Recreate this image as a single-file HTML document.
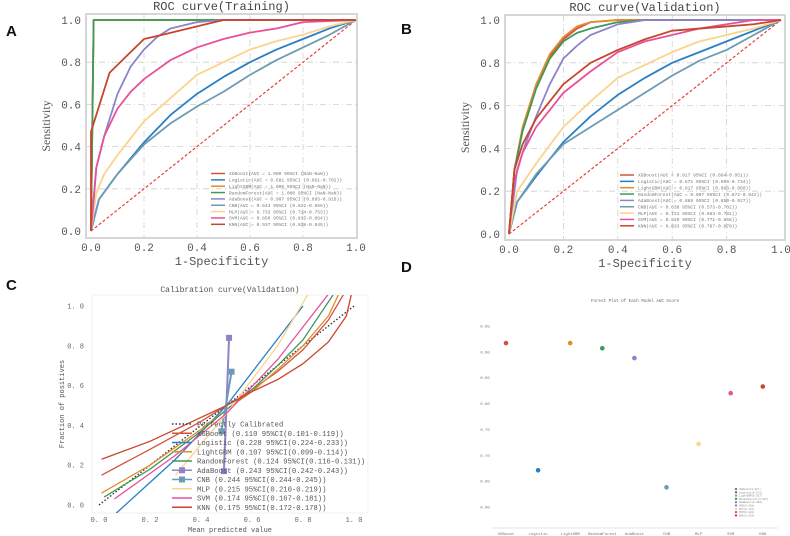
<!DOCTYPE html>
<html><head><meta charset="utf-8">
<style>
html,body{margin:0;padding:0;background:#fff;}
body{width:790px;height:536px;overflow:hidden;position:relative;font-family:"Liberation Mono","Noto Sans CJK SC",monospace;}
svg{position:absolute;left:0;top:0;}
</style></head>
<body>
<svg id="chart" width="790" height="536" viewBox="0 0 790 536"></svg>
<script>
// ---------- data ----------
const models = ["XGBoost","Logistic","LightGBM","RandomForest","AdaBoost","CNB","MLP","SVM","KNN"];
const colors = ["#d1533a","#2a7fc4","#e68a2e","#3d9a5b","#8e82c9","#6c9cb4","#fcd38c","#e8509a","#c8452d"];
const trainLegend = ["(AUC = 1.000 95%CI (NaN-NaN))","(AUC = 0.681 95%CI (0.661-0.702))","(AUC = 1.000 95%CI (NaN-NaN))","(AUC = 1.000 95%CI (NaN-NaN))","(AUC = 0.907 95%CI (0.895-0.918))","(AUC = 0.643 95%CI (0.622-0.665))","(AUC = 0.733 95%CI (0.714-0.753))","(AUC = 0.850 95%CI (0.835-0.864))","(AUC = 0.937 95%CI (0.928-0.945))"];
const validLegend = ["(AUC = 0.917 95%CI (0.884-0.951))","(AUC = 0.671 95%CI (0.608-0.734))","(AUC = 0.917 95%CI (0.883-0.950))","(AUC = 0.907 95%CI (0.872-0.942))","(AUC = 0.888 95%CI (0.850-0.927))","(AUC = 0.638 95%CI (0.573-0.702))","(AUC = 0.722 95%CI (0.663-0.781))","(AUC = 0.820 95%CI (0.771-0.868))","(AUC = 0.833 95%CI (0.787-0.879))"];
const calLegend = ["(0.110 95%CI(0.101-0.119))","(0.228 95%CI(0.224-0.233))","(0.107 95%CI(0.099-0.114))","(0.124 95%CI(0.116-0.131))","(0.243 95%CI(0.242-0.243))","(0.244 95%CI(0.244-0.245))","(0.215 95%CI(0.210-0.219))","(0.174 95%CI(0.167-0.181))","(0.175 95%CI(0.172-0.178))"];
const aucValues = [0.917,0.671,0.917,0.907,0.888,0.638,0.722,0.820,0.833];
const forestLegend = ["XGBoost(0.917)","Logistic(0.671)","LightGBM(0.917)","RandomForest(0.907)","AdaBoost(0.888)","CNB(0.638)","MLP(0.722)","SVM(0.820)","KNN(0.833)"];
const unitTicks = [0,0.2,0.4,0.6,0.8,1.0];
const forestTicks = [0.60,0.65,0.70,0.75,0.80,0.85,0.90,0.95];

const trainROC = [
 [[0,0],[0.01,1],[1,1]],
 [[0,0],[0.03,0.15],[0.1,0.27],[0.2,0.42],[0.3,0.55],[0.4,0.65],[0.5,0.73],[0.6,0.8],[0.7,0.86],[0.8,0.91],[0.9,0.96],[1,1]],
 [[0,0],[0.01,1],[1,1]],
 [[0,0],[0.01,1],[1,1]],
 [[0,0],[0.02,0.3],[0.05,0.45],[0.1,0.65],[0.15,0.78],[0.2,0.86],[0.25,0.92],[0.3,0.96],[0.4,0.99],[0.5,1],[1,1]],
 [[0,0],[0.03,0.15],[0.1,0.27],[0.2,0.41],[0.3,0.51],[0.4,0.59],[0.5,0.66],[0.6,0.74],[0.7,0.81],[0.8,0.87],[0.9,0.93],[1,1]],
 [[0,0],[0.02,0.18],[0.05,0.27],[0.1,0.36],[0.2,0.52],[0.3,0.63],[0.4,0.74],[0.5,0.8],[0.6,0.86],[0.7,0.9],[0.8,0.93],[0.9,0.97],[1,1]],
 [[0,0],[0.02,0.3],[0.05,0.45],[0.1,0.58],[0.15,0.66],[0.2,0.72],[0.3,0.81],[0.4,0.87],[0.5,0.91],[0.6,0.94],[0.7,0.96],[0.8,0.99],[1,1]],
 [[0,0],[0,0.47],[0.02,0.55],[0.07,0.75],[0.2,0.91],[0.27,0.93],[0.4,0.97],[0.5,1],[1,1]]
];
const validROC = [
 [[0,0],[0.02,0.3],[0.05,0.49],[0.1,0.69],[0.15,0.83],[0.2,0.91],[0.25,0.96],[0.3,0.99],[0.4,1],[1,1]],
 [[0,0],[0.03,0.15],[0.1,0.27],[0.2,0.43],[0.3,0.55],[0.4,0.65],[0.5,0.73],[0.6,0.8],[0.7,0.85],[0.8,0.9],[0.9,0.95],[1,1]],
 [[0,0],[0.02,0.3],[0.05,0.5],[0.1,0.7],[0.15,0.84],[0.2,0.92],[0.25,0.97],[0.3,0.99],[0.4,1],[1,1]],
 [[0,0],[0.02,0.3],[0.05,0.48],[0.1,0.68],[0.15,0.82],[0.2,0.9],[0.25,0.94],[0.3,0.96],[0.4,0.99],[0.5,1],[1,1]],
 [[0,0],[0.03,0.3],[0.06,0.42],[0.1,0.55],[0.15,0.7],[0.2,0.82],[0.25,0.88],[0.3,0.93],[0.4,0.98],[0.5,1],[1,1]],
 [[0,0],[0.03,0.15],[0.1,0.28],[0.2,0.42],[0.3,0.5],[0.4,0.58],[0.5,0.66],[0.6,0.74],[0.7,0.81],[0.8,0.86],[0.9,0.93],[1,1]],
 [[0,0],[0.03,0.2],[0.1,0.33],[0.2,0.5],[0.3,0.62],[0.4,0.73],[0.5,0.79],[0.6,0.85],[0.7,0.9],[0.8,0.93],[0.9,0.96],[1,1]],
 [[0,0],[0.02,0.25],[0.05,0.38],[0.1,0.5],[0.15,0.58],[0.2,0.66],[0.3,0.76],[0.4,0.85],[0.5,0.9],[0.6,0.93],[0.7,0.96],[0.8,0.98],[0.9,1],[1,1]],
 [[0,0],[0.02,0.3],[0.05,0.42],[0.1,0.54],[0.15,0.62],[0.2,0.7],[0.3,0.8],[0.4,0.86],[0.5,0.91],[0.6,0.95],[0.7,0.96],[0.8,0.97],[0.9,0.98],[1,1]]
];
const calCurves = [
 [[0.01,0.15],[0.2,0.28],[0.4,0.42],[0.5,0.5],[0.6,0.58],[0.7,0.67],[0.8,0.78],[0.9,0.93],[0.96,1.06]],
 [[0.06,-0.05],[0.3,0.23],[0.5,0.5],[0.8,1.0]],
 [[0.01,0.06],[0.2,0.2],[0.4,0.38],[0.5,0.48],[0.6,0.57],[0.7,0.68],[0.8,0.8],[0.9,0.95],[0.94,1.06]],
 [[0.02,0.04],[0.2,0.18],[0.4,0.37],[0.5,0.48],[0.6,0.58],[0.7,0.7],[0.8,0.83],[0.92,1.06]],
 [[0.49,0.17],[0.51,0.84]],
 [[0.48,0.37],[0.52,0.67]],
 [[0.3,0.15],[0.5,0.46],[0.7,0.8],[0.82,1.06]],
 [[0.06,0.03],[0.3,0.25],[0.5,0.46],[0.7,0.73],[0.9,1.06]],
 [[0.01,0.23],[0.2,0.32],[0.4,0.44],[0.5,0.5],[0.6,0.57],[0.7,0.63],[0.8,0.71],[0.9,0.82],[0.97,0.95],[0.99,1.06]]
];

// ---------- helpers ----------
const NS="http://www.w3.org/2000/svg";
const svg=document.getElementById('chart');
function el(tag,attrs,parent,text){const e=document.createElementNS(NS,tag);for(const k in attrs)e.setAttribute(k,attrs[k]);if(text!==undefined)e.textContent=text;(parent||svg).appendChild(e);return e;}
function lin(d0,d1,r0,r1){return v=>r0+(v-d0)/(d1-d0)*(r1-r0);}
const FONT='"Liberation Mono","Noto Sans CJK SC",monospace';

function panelLetter(t,x,y){const e=el('text',{x:x,y:y,'font-family':'"Liberation Sans",sans-serif','font-size':15,'font-weight':'bold',fill:'#111'},svg,t);

}

function rocPanel(id,title,frame,xs,ys,curves,legendText,legX,legY){
 const g=el('g',{});
 
 
 const bg=el('rect',{x:frame[0],y:frame[1],width:frame[2]-frame[0],height:frame[3]-frame[1],fill:'#fff',stroke:'#d6d6d6','stroke-width':2},g);
 
 
 unitTicks.forEach(t=>{
  if(t>0&&t<1){
   const gx=el('line',{x1:xs(t),x2:xs(t),y1:frame[1],y2:frame[3],stroke:'#cfcfcf','stroke-dasharray':'6,3,1,3','stroke-width':0.8},g);
   
   
   const gy=el('line',{x1:frame[0],x2:frame[2],y1:ys(t),y2:ys(t),stroke:'#cfcfcf','stroke-dasharray':'6,3,1,3','stroke-width':0.8},g);
   
   
  }
  const lab=t.toFixed(1);
  const tx=el('text',{x:xs(t),y:frame[3]+13,'text-anchor':'middle','font-family':FONT,'font-size':11,fill:'#555'},g,lab);
  
  
  const ty=el('text',{x:frame[0]-5,y:ys(t)+4,'text-anchor':'end','font-family':FONT,'font-size':11,fill:'#555'},g,lab);
  
  
 });
 const tt=el('text',{x:(frame[0]+frame[2])/2,y:frame[1]-4,'text-anchor':'middle','font-family':FONT,'font-size':12,fill:'#444'},g,title);
 
 
 const xl=el('text',{x:(frame[0]+frame[2])/2,y:frame[3]+27,'text-anchor':'middle','font-family':FONT,'font-size':12,fill:'#555'},g,'1-Specificity');
 
 
 const cy=(frame[1]+frame[3])/2;
 const yl=el('text',{x:frame[0]-36,y:cy,'text-anchor':'middle','font-family':'"Liberation Serif",serif','font-size':12,fill:'#555',transform:`rotate(-90 ${frame[0]-36} ${cy})`},g,'Sensitivity');
 
 
 const ref=el('line',{x1:xs(0),y1:ys(0),x2:xs(1),y2:ys(1),stroke:'#e8403a','stroke-width':1.2,'stroke-dasharray':'3,2'},g);
 
 
 curves.forEach((c,i)=>{
  const p=el('polyline',{points:c.map(q=>xs(q[0])+','+ys(q[1])).join(' '),fill:'none',stroke:colors[i],'stroke-width':1.8,'stroke-linejoin':'round'},g);
  
  
 });
 models.forEach((m,i)=>{
  const y=legY+i*6.35;
  const ln=el('line',{x1:legX,x2:legX+14,y1:y,y2:y,stroke:colors[i],'stroke-width':1.5},g);
  
  
  const t=el('text',{x:legX+18,y:y+1.7,'font-family':FONT,'font-size':4.6,fill:'#777'},g,m+legendText[i]);
  
  
 });
}

panelLetter('A',6,36);
panelLetter('B',401,34);
panelLetter('C',6,290);
panelLetter('D',401,272);

rocPanel('roc-training','ROC curve(Training)',[86,14,357,238],lin(0,1,91,356),lin(0,1,231,20),trainROC,trainLegend,211,173.5);
rocPanel('roc-validation','ROC curve(Validation)',[505,15,785,240],lin(0,1,509,781),lin(0,1,234,20),validROC,validLegend,620,175);

// ---------- calibration ----------
(function(){
 const g=el('g',{});
 
 
 const xs=lin(0,1,99,354), ys=lin(0,1,505,306);
 const F=[92,295,368,513];
 el('defs',{},g).innerHTML='<clipPath id="calclip"><rect x="92" y="295" width="276" height="218"/></clipPath>';
 const fr=el('rect',{x:F[0],y:F[1],width:F[2]-F[0],height:F[3]-F[1],fill:'#fff',stroke:'#f0f0f0','stroke-width':1},g);
 
 
 unitTicks.forEach(t=>{
  const tx=el('text',{x:xs(t),y:F[3]+9,'text-anchor':'middle','font-family':FONT,'font-size':7,fill:'#666'},g,t.toFixed(1).replace('.','. '));
  
  
  const ty=el('text',{x:F[0]-8,y:ys(t)+2.5,'text-anchor':'end','font-family':FONT,'font-size':7,fill:'#666'},g,t.toFixed(1).replace('.','. '));
  
  
 });
 const tt=el('text',{x:230,y:292,'text-anchor':'middle','font-family':FONT,'font-size':8,fill:'#555'},g,'Calibration curve(Validation)');
 
 
 const xl=el('text',{x:230,y:532,'text-anchor':'middle','font-family':FONT,'font-size':7,fill:'#555'},g,'Mean predicted value');
 
 
 const yl=el('text',{x:64,y:404,'text-anchor':'middle','font-family':FONT,'font-size':7,fill:'#555',transform:'rotate(-90 64 404)'},g,'Fraction of positives');
 
 
 const cg=el('g',{'clip-path':'url(#calclip)'},g);
 const pc=el('line',{x1:xs(0),y1:ys(0),x2:xs(1),y2:ys(1),stroke:'#333','stroke-width':1.4,'stroke-dasharray':'1.5,2'},cg);
 
 
 calCurves.forEach((c,i)=>{
  const p=el('polyline',{points:c.map(q=>xs(q[0])+','+ys(q[1])).join(' '),fill:'none',stroke:colors[i],'stroke-width':(i===4||i===5)?2:1.3},cg);
  
  
  if(i===4||i===5){c.forEach(q=>{const m=el('rect',{x:xs(q[0])-3,y:ys(q[1])-3,width:6,height:6,fill:colors[i]},cg);
   
   });}
 });
 const lx=172, ly=424, step=9.25;
 const items=[['Perfectly Calibrated','#333',true]].concat(models.map((m,i)=>[m+' '+calLegend[i],colors[i],false]));
 items.forEach((it,k)=>{
  const y=ly+k*step;
  const ln=el('line',{x1:lx,x2:lx+20,y1:y,y2:y,stroke:it[1],'stroke-width':1.4,'stroke-dasharray':it[2]?'1.5,2':'none'},g);
  
  
  if(k===5||k===6){const m=el('rect',{x:lx+7,y:y-3,width:6,height:6,fill:it[1]},g);
   
   }
  const t=el('text',{x:lx+25,y:y+2.5,'font-family':FONT,'font-size':7.2,fill:'#555'},g,it[0]);
  
  
 });
})();

// ---------- forest ----------
(function(){
 const g=el('g',{});
 
 
 const ys=lin(0.60,0.95,507,326);
 const xs=i=>506+i*32.1;
 const tt=el('text',{x:635,y:302,'text-anchor':'middle','font-family':FONT,'font-size':4.2,fill:'#666'},g,'Forest Plot of Each Model AUC Score');
 
 
 const ax=el('line',{x1:492,x2:778,y1:528,y2:528,stroke:'#ddd','stroke-width':0.8},g);
 
 
 forestTicks.forEach(t=>{
  const ty=el('text',{x:485,y:ys(t)+1.5,'text-anchor':'middle','font-family':FONT,'font-size':4,fill:'#777'},g,t.toFixed(2));
  
  
 });
 models.forEach((m,i)=>{
  const tx=el('text',{x:xs(i),y:535,'text-anchor':'middle','font-family':FONT,'font-size':4,fill:'#777'},g,m);
  
  
  const c=el('circle',{cx:xs(i),cy:ys(aucValues[i]),r:2.3,fill:colors[i]},g);
  
  
 });
 models.forEach((m,i)=>{
  const y=489+i*3.3;
  const c=el('circle',{cx:736,cy:y,r:1.2,fill:colors[i]},g);
  
  
  const t=el('text',{x:739,y:y+1,'font-family':FONT,'font-size':2.6,fill:'#888'},g,forestLegend[i]);
  
  
 });
})();
</script>
</body></html>
